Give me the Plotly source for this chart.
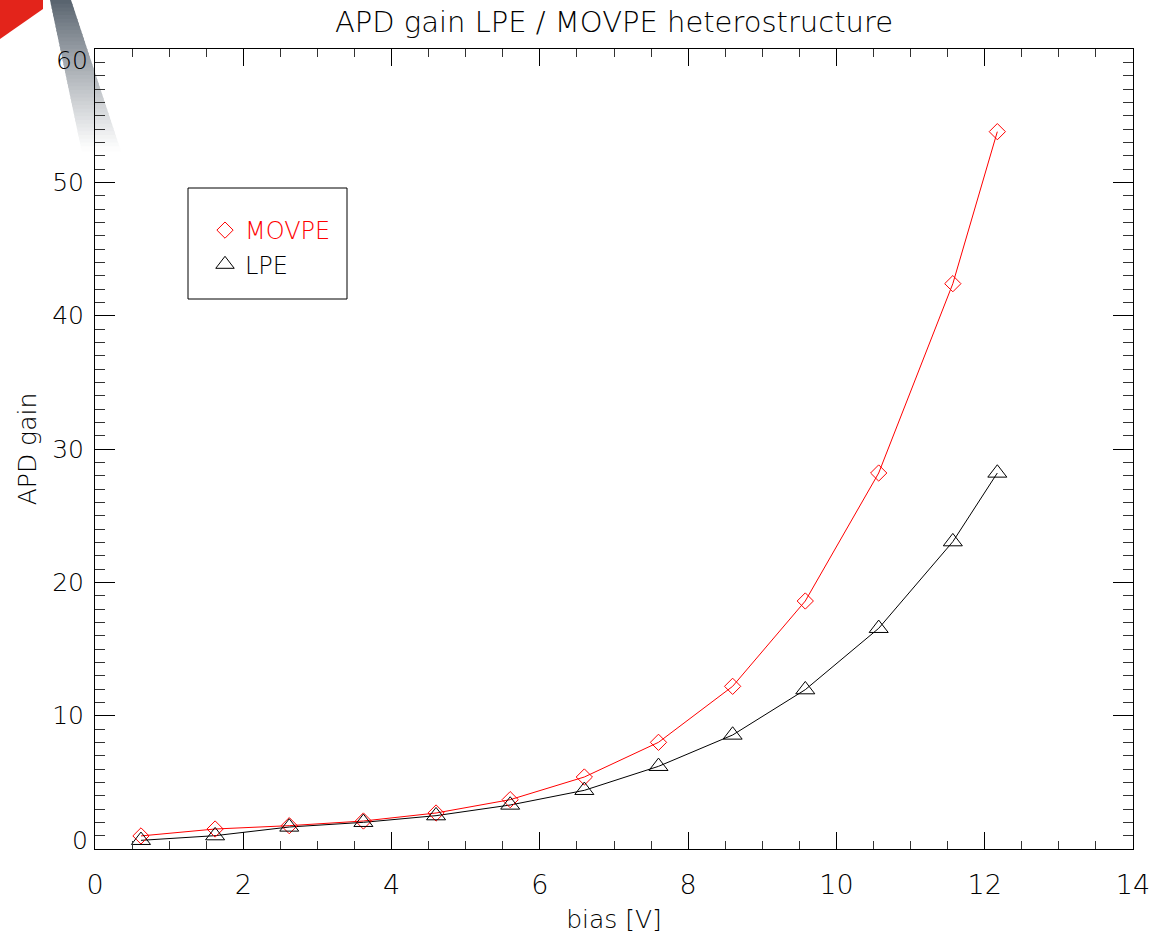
import plotly.graph_objects as go

# ---- data ----
bias_v = [0.62, 1.62, 2.62, 3.62, 4.6, 5.6, 6.6, 7.6, 8.6, 9.58, 10.57, 11.57, 12.17]
gain_movpe = [0.98, 1.5, 1.75, 2.1, 2.7, 3.7, 5.4, 8.0, 12.2, 18.6, 28.2, 42.4, 53.8]
gain_lpe = [0.65, 1.0, 1.65, 2.0, 2.5, 3.3, 4.4, 6.2, 8.55, 11.95, 16.55, 23.05, 28.2]

x_tickvals = [0, 2, 4, 6, 8, 10, 12, 14]
x_ticktext = ["0", "2", "4", "6", "8", "10", "12", "14"]
y_tickvals = [0, 10, 20, 30, 40, 50, 60]
y_ticktext = ["0", "10", "20", "30", "40", "50", "60"]

title_text = "APD gain LPE / MOVPE heterostructure"
x_title = "bias [V]"
y_title = "APD gain"

# ---- layout constants ----
W, H = 1150, 934
L, R, T, B = 95, 1133, 49, 849
FONT = "DejaVu Sans"
RED = "#ff0000"
TXT = "#000000"


def px2paper(px, py):
    return (px - L) / (R - L), (B - py) / (B - T)


fig = go.Figure()

# connecting lines
fig.add_trace(go.Scatter(x=bias_v, y=gain_movpe, mode="lines",
                         line=dict(color=RED, width=1), showlegend=False,
                         hoverinfo="skip"))
fig.add_trace(go.Scatter(x=bias_v, y=gain_lpe, mode="lines",
                         line=dict(color="black", width=1), showlegend=False,
                         hoverinfo="skip"))
# markers (legend entries)
fig.add_trace(go.Scatter(x=bias_v, y=gain_movpe, mode="markers",
                         name='<span style="color:#ff0000">MOVPE</span>',
                         marker=dict(symbol="diamond-open", size=12.5, color=RED,
                                     line=dict(color=RED, width=1))))
fig.add_trace(go.Scatter(x=bias_v, y=gain_lpe, mode="markers",
                         name="LPE",
                         marker=dict(symbol="triangle-up-open", size=16.5, color="black",
                                     line=dict(color="black", width=1))))

shapes = []
# decorative logo: red corner
red_poly = [(0, 0), (43, 0), (43, 9), (0, 39)]
pts = [px2paper(a, b) for a, b in red_poly]
path = "M " + " L ".join(f"{a:.5f},{b:.5f}" for a, b in pts) + " Z"
shapes.append(dict(type="path", xref="paper", yref="paper", path=path,
                   fillcolor="#e3241b", line=dict(width=0), layer="below"))
# decorative logo: fading grey stripe
n = 40
ymax = 150.0
c0 = (86, 97, 108)
for i in range(n):
    ya = ymax * i / n
    yb = ymax * (i + 1) / n + 1.5
    t = ((i + 0.5) / n) ** 0.9
    col = tuple(int(round(c + (255 - c) * t)) for c in c0)
    quad = [(50 + 0.21 * ya, ya), (71 + 0.33 * ya, ya),
            (71 + 0.33 * yb, yb), (50 + 0.21 * yb, yb)]
    pts = [px2paper(a, b) for a, b in quad]
    path = "M " + " L ".join(f"{a:.5f},{b:.5f}" for a, b in pts) + " Z"
    shapes.append(dict(type="path", xref="paper", yref="paper", path=path,
                       fillcolor=f"rgb{col}", line=dict(width=0), layer="below"))

# legend box
lx0, ly0 = px2paper(188, 299)
lx1, ly1 = px2paper(347, 188)
shapes.append(dict(type="rect", xref="paper", yref="paper", x0=lx0, y0=ly0,
                   x1=lx1, y1=ly1, line=dict(color="black", width=1),
                   fillcolor="rgba(0,0,0,0)"))

# y tick labels: edge labels pulled inside the axis span like the original
annotations = []
y_ticktext_axis = []
for v, t in zip(y_tickvals, y_ticktext):
    if v == y_tickvals[0] or v == y_tickvals[-1]:
        y_ticktext_axis.append("")
        shift = 9 if v == y_tickvals[0] else -11
        annotations.append(dict(x=0, xref="paper", y=v, yref="y", text=t,
                                showarrow=False, xanchor="right", yanchor="middle",
                                xshift=-5, yshift=shift,
                                font=dict(family=FONT, size=25, color=TXT, weight=200)))
    else:
        y_ticktext_axis.append(t)

legx, legy = px2paper(205, 208)

fig.update_layout(
    width=W, height=H, autosize=False,
    margin=dict(l=L, r=W - R, t=T, b=H - B, autoexpand=False),
    paper_bgcolor="white",
    plot_bgcolor="rgba(0,0,0,0)",
    title=dict(text=title_text, x=(L + R) / 2 / W, xref="container", xanchor="center",
               y=1 - 22 / H, yref="container", yanchor="middle",
               font=dict(family=FONT, size=29, color=TXT, weight=200)),
    xaxis=dict(range=[0, 14], tickvals=x_tickvals, ticktext=x_ticktext,
               ticks="inside", ticklen=17, tickwidth=1, tickcolor="black",
               showline=True, linecolor="black", linewidth=1, mirror="ticks",
               showgrid=False, zeroline=False, ticklabelstandoff=12,
               ticklabeloverflow="allow", automargin=False,
               minor=dict(dtick=0.5, ticks="inside", ticklen=8, tickwidth=1,
                          tickcolor="#333", showgrid=False),
               tickfont=dict(family=FONT, size=27, color=TXT, weight=200),
               title=dict(text=x_title, standoff=13,
                          font=dict(family=FONT, size=25, color=TXT, weight=200))),
    yaxis=dict(range=[0, 60], tickvals=y_tickvals, ticktext=y_ticktext_axis,
               ticks="inside", ticklen=20, tickwidth=1, tickcolor="black",
               showline=True, linecolor="black", linewidth=1, mirror="ticks",
               showgrid=False, zeroline=False, ticklabelstandoff=5,
               ticklabeloverflow="allow", automargin=False,
               minor=dict(dtick=1, ticks="inside", ticklen=10, tickwidth=1,
                          tickcolor="#333", showgrid=False),
               tickfont=dict(family=FONT, size=25, color=TXT, weight=200),
               title=dict(text=y_title, standoff=8,
                          font=dict(family=FONT, size=25, color=TXT, weight=200))),
    legend=dict(x=legx, y=legy, xanchor="left", yanchor="top",
                bgcolor="rgba(0,0,0,0)", borderwidth=0,
                font=dict(family=FONT, size=24, color="black", weight=200)),
    shapes=shapes,
    annotations=annotations,
)

fig.write_html("out.html", config={"displayModeBar": False},
               post_script="document.body.style.margin='0';document.body.style.overflow='hidden';")
